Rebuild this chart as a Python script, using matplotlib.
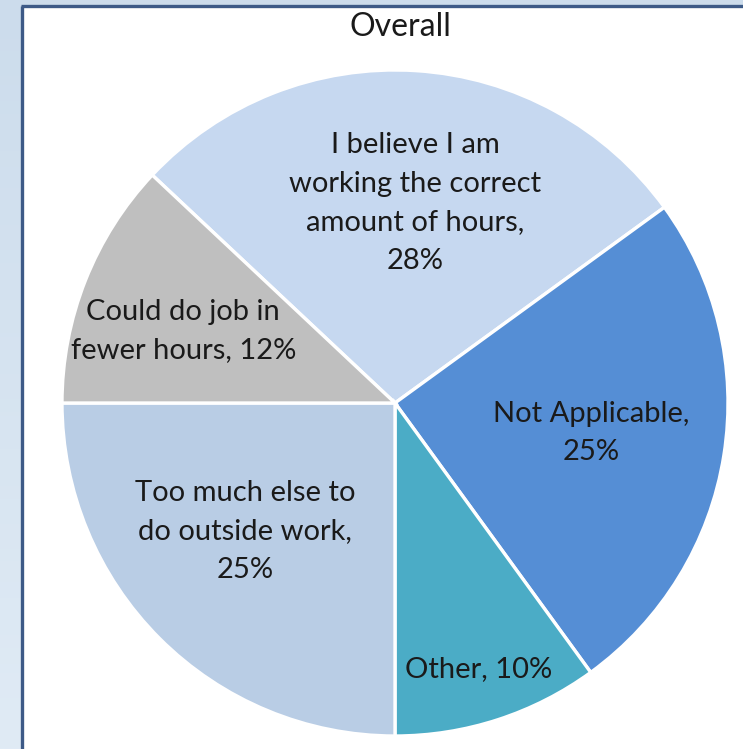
import numpy as np
import matplotlib
matplotlib.use("Agg")
import matplotlib.pyplot as plt
from matplotlib.patches import Rectangle

plt.rcParams['font.family'] = ['Lato', 'DejaVu Sans']

# Survey responses (percent), in clockwise order
categories = [
    "I believe I am\nworking the correct\namount of hours",
    "Not Applicable",
    "Other",
    "Too much else to\ndo outside work",
    "Could do job in\nfewer hours",
]
values = [28, 25, 10, 25, 12]
colors = ["#C6D8F0", "#558ED5", "#4BACC6", "#B9CDE5", "#BFBFBF"]
label_formats = ["{c},\n{v}%", "{c},\n{v}%", "{c}, {v}%", "{c},\n{v}%", "{c}, {v}%"]

W, H = 743, 749
fig = plt.figure(figsize=(W / 100, H / 100), dpi=100)

# Light blue gradient backdrop
bg = fig.add_axes([0, 0, 1, 1])
grad = np.linspace(0, 1, 256).reshape(-1, 1)
cmap = matplotlib.colors.LinearSegmentedColormap.from_list("bg", ["#CCDCEC", "#E0EBF5"])
bg.imshow(grad, aspect="auto", cmap=cmap, extent=[0, W, 0, H], origin="upper")
bg.set_xlim(0, W)
bg.set_ylim(0, H)
bg.axis("off")

ax = fig.add_axes([0, 0, 1, 1])
ax.set_xlim(0, W)
ax.set_ylim(0, H)
ax.axis("off")

# Chart area with dark frame on the left and top
ax.add_patch(Rectangle((23, 0), W - 23, H - 7, facecolor="white", edgecolor="none", zorder=0))
ax.plot([22, 22], [0, H - 5.5], color="#3D5A87", lw=2.4, solid_capstyle="butt", zorder=1)
ax.plot([21, W], [H - 6, H - 6], color="#3D5A87", lw=2.4, solid_capstyle="butt", zorder=1)

cx, cy, R = 395, H - 403, 333
wedges, _ = ax.pie(values, colors=colors, startangle=136.8, counterclock=False,
                   center=(cx, cy), radius=R, frame=True,
                   wedgeprops=dict(edgecolor="white", linewidth=2.4))
ax.set_xlim(0, W)
ax.set_ylim(0, H)
ax.axis("off")

# Label positions relative to the pie centre (fractions of the radius)
offsets = [(0.06, 0.60), (0.59, -0.09), (0.25, -0.80), (-0.45, -0.386), (-0.636, 0.216)]
for cat, v, fmt, (ox, oy) in zip(categories, values, label_formats, offsets):
    ax.text(cx + ox * R, cy + oy * R, fmt.format(c=cat, v=v), ha="center", va="center",
            fontsize=21, color="#1A1A1A", linespacing=1.6, zorder=5)

ax.text(400, H - 27, "Overall", ha="center", va="center", fontsize=23, color="#1A1A1A")

fig.savefig("out.png", dpi=100)
